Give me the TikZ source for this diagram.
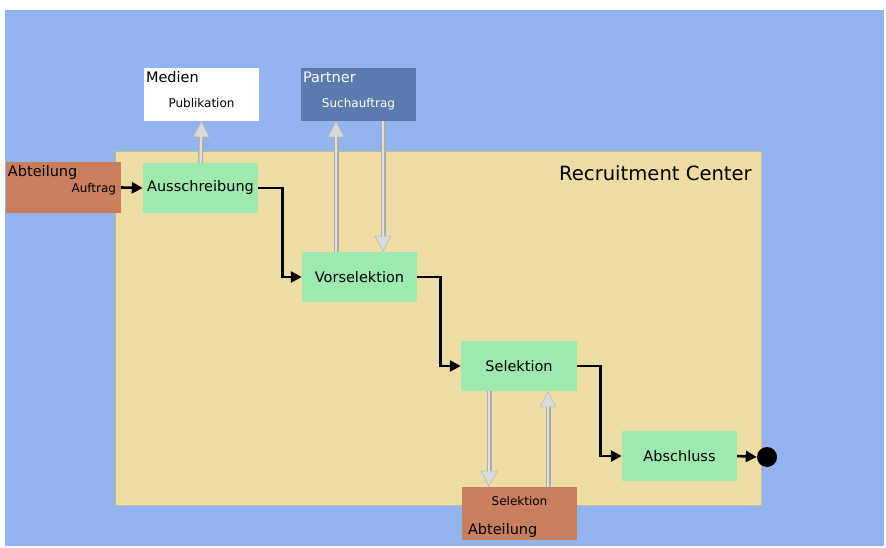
\documentclass[tikz,border=0pt]{standalone}
\usepackage{fontspec}
\setmainfont{DejaVu Sans}
\usetikzlibrary{positioning, arrows.meta}
\definecolor{rcblue}{RGB}{147,179,238}
\definecolor{rctan}{RGB}{238,220,165}
\definecolor{rcgreen}{RGB}{157,233,175}
\definecolor{rcbrown}{RGB}{201,127,93}
\definecolor{rcpartner}{RGB}{91,122,174}
\tikzset{box/.style={minimum width=115pt, minimum height=50pt, inner sep=0pt, font=\fontsize{14.5}{17}\selectfont}}
\tikzset{task/.style={box, fill=rcgreen}}
\tikzset{big/.style={font=\fontsize{14.5}{17}\selectfont}}
\tikzset{small/.style={font=\fontsize{12}{14}\selectfont}}
\tikzset{flow/.style={line width=2.6pt, -{Triangle[length=11pt, width=11pt]}}}
\tikzset{info/.style={draw=gray!65, line width=5pt,
  -{Triangle[length=16pt, width=17pt, fill=gray!30, color=gray!55, line width=0.6pt]},
  postaction={draw=gray!25, line width=2.4pt, -, shorten >=15pt}}}

\begin{document}
\begin{tikzpicture}[x=1pt, y=-1pt]

  \useasboundingbox (0,0) rectangle (886,548);
  \fill[rcblue] (5,10) rectangle (884,546);
  \filldraw[fill=rctan, draw=rctan!85!black, line width=0.5pt] (115,151) rectangle (761,505);
  \node[anchor=east, inner sep=0pt, font=\fontsize{19.6}{22}\selectfont] (rc) at (752,173) {Recruitment Center};

  % externe Stellen
  \node[box, fill=white, minimum height=53pt] (medien) at (201.5,94.5)
    [label={[big, anchor=north west, inner sep=2pt, yshift=-1.5pt]north west:Medien},
     label={[small, yshift=-8.5pt]center:Publikation}] {};
  \node[box, fill=rcpartner, minimum height=53pt] (partner) at (358.5,94.5)
    [label={[big, anchor=north west, inner sep=2pt, yshift=-1.5pt, text=white]north west:Partner},
     label={[small, yshift=-9.5pt, text=white]center:Suchauftrag}] {};
  \node[box, fill=rcbrown, minimum height=51pt] (abt) at (63.5,187.5)
    [label={[big, anchor=north west, inner sep=2pt, yshift=-1pt]north west:Abteilung},
     label={[small, anchor=east, inner sep=5pt, yshift=-2pt]east:Auftrag}] {};
  \node[box, fill=rcbrown, minimum height=53pt] (abtsel) at (519.5,513.5)
    [label={[small, anchor=north, yshift=-6.5pt]north:Selektion},
     label={[big, anchor=south west, inner sep=2pt, xshift=4pt]south west:Abteilung}] {};

  % Ablauf
  \node[task] (aus) at (200.5,188) {Ausschreibung};
  \node[task] (vor) at (359.5,277) {Vorselektion};
  \node[task, minimum width=116pt] (sel) at (519,366) {Selektion};
  \node[task] (abs) at (679.5,456) {Abschluss};
  \node[circle, fill=black, minimum size=20pt, inner sep=0pt] (end) at (767,457) {};

  \draw[flow] (abt.east) -- (aus.west);
  \draw[flow] (aus.east) -- ++(24,0) |- (vor.west);
  \draw[flow] (vor.east) -- ++(23,0) |- (sel.west);
  \draw[flow] (sel.east) -- ++(23,0) |- (abs.west);
  \draw[flow] (abs.east) -- (end.west);

  \draw[info] (aus.north) -- (medien.south);
  \draw[info] ([xshift=-23.5pt]vor.north) -- ([xshift=-23.5pt]vor.north |- partner.south);
  \draw[info] ([xshift=23.5pt]vor.north |- partner.south) -- ([xshift=23.5pt]vor.north);
  \draw[info] ([xshift=-30pt]sel.south) -- ([xshift=-30pt]sel.south |- abtsel.north);
  \draw[info] ([xshift=29pt]sel.south |- abtsel.north) -- ([xshift=29pt]sel.south);

\end{tikzpicture}
\end{document}
